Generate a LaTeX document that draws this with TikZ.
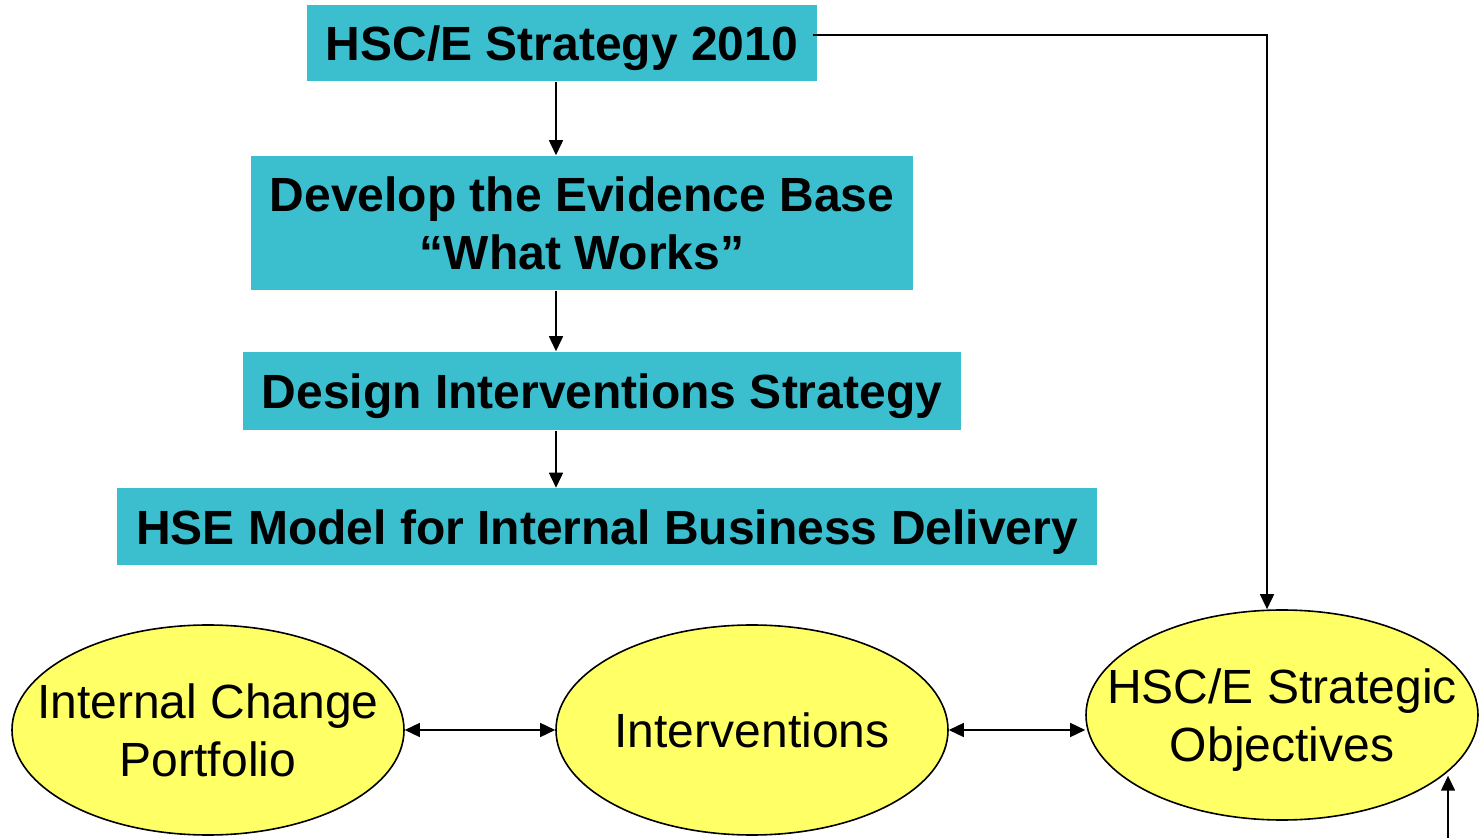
\documentclass[tikz,border=0pt]{standalone}
\usepackage[svgnames]{xcolor}
\usepackage{fontspec}
\setmainfont{Liberation Sans}
\usetikzlibrary{arrows.meta,shapes.geometric}
\definecolor{BoxCyan}{RGB}{59,191,207}
\definecolor{OvalYellow}{RGB}{255,255,102}

\begin{document}
\begin{tikzpicture}[x=0.5pt, y=-0.5pt, line width=0.75pt,
      every node/.append style={font=\fontsize{24}{29}\selectfont, align=center, inner sep=0pt, text depth=0pt},
      tip/.style={-{Triangle[length=7.5pt,width=7pt]}},
      twotip/.style={{Triangle[length=7.5pt,width=7pt]}-{Triangle[length=7.5pt,width=7pt]}}]
	  \tikzstyle{box} = [rectangle, fill=BoxCyan, font=\fontsize{24}{29}\selectfont\bfseries]
	  \tikzstyle{oval} = [ellipse, draw=black, fill=OvalYellow, line width=0.8pt,
	                      inner xsep=-20pt, minimum width=196pt, minimum height=105pt]
	  \useasboundingbox (0,0) rectangle (1482,838);
	  % boxes down the left
	  \node (b_1) [box, minimum width=255pt, minimum height=38pt] at (562,43) {HSC/E Strategy 2010};
	  \node (b_2) [box, minimum width=331pt, minimum height=67pt] at (582,223) {Develop the Evidence Base\\“What Works”};
	  \node (b_3) [box, minimum width=359pt, minimum height=39pt] at (602,391) {Design Interventions Strategy};
	  \node (b_4) [box, minimum width=490pt, minimum height=38.5pt] at (607,527) {HSE Model for Internal Business Delivery};
	  % ovals along the bottom
	  \node (o_1) [oval] at (208,730) {Internal Change\\Portfolio};
	  \node (o_2) [oval] at (752,730) {Interventions};
	  \node (o_3) [oval] at (1282,715) {HSC/E Strategic\\Objectives};
	  \coordinate (spine) at (556,0);
	  \coordinate (foot) at (1448,838);
	  \draw[tip] (spine |- b_1.south) -- (spine |- b_2.north);
	  \draw[tip] (spine |- b_2.south) -- (spine |- b_3.north);
	  \draw[tip] (spine |- b_3.south) -- (spine |- b_4.north);
	  \draw[tip] ([xshift=-2.5pt, yshift=4pt]b_1.east) -| ([xshift=-7.5pt]o_3.north);
	  \draw[twotip] (o_1.east) -- (o_2.west);
	  \draw[twotip] (o_2.east) -- (o_3.west |- o_2.east);
	  \draw[tip] (foot) -- ([yshift=-3pt]foot |- o_3.-18.6);
\end{tikzpicture}
\end{document}
